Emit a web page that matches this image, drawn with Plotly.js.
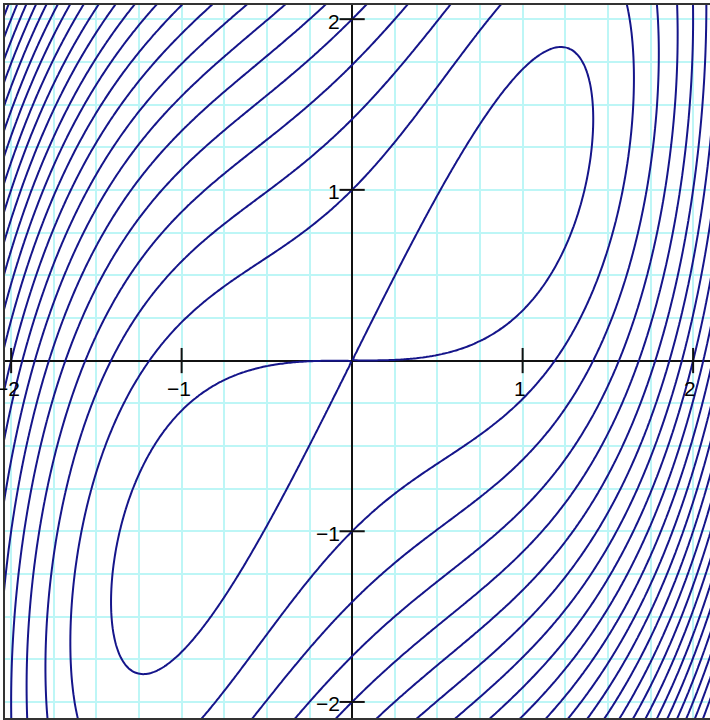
<!DOCTYPE html>
<html>
<head>
<meta charset="utf-8">
<script src="https://cdn.plot.ly/plotly-3.0.1.min.js"></script>
<style>
  html, body { margin: 0; padding: 0; background: #ffffff; }
  #chart { width: 710px; height: 720px; }
</style>
</head>
<body>
<div id="chart"></div>
<script>
// Level curves of f(x, y) = x^4 + 2y^2 - 4xy
// polynomial terms: coefficient * x^powX * y^powY
const termCoef = [1, 2, -4];
const termPowX = [4, 0, 1];
const termPowY = [0, 2, 1];

// contour levels: from 0 (the figure-eight through the saddle) upward
const levelRange = [0, 46];
const levelStep = 2;

// visible window
const xRange = [-2.036, 2.099];
const yRange = [-2.094, 2.083];

// axis labels
const xTickVals = [-2, -1, 1, 2];
const xTickText = ['\u22122', '\u22121', '1', '2'];
const yTickVals = [-2, -1, 1, 2];
const yTickText = ['\u22122', '\u22121', '1', '2'];

function surface(x, y) {
  let s = 0;
  for (let k = 0; k < termCoef.length; k++) {
    s += termCoef[k] * Math.pow(x, termPowX[k]) * Math.pow(y, termPowY[k]);
  }
  return s;
}

// sample the surface on a regular lattice a little wider than the window
const nSamples = 241;
const gx = [], gy = [];
for (let i = 0; i < nSamples; i++) {
  gx.push(-2.2 + i * 4.45 / (nSamples - 1));
  gy.push(-2.2 + i * 4.45 / (nSamples - 1));
}
const gz = gy.map(y => gx.map(x => surface(x, y)));

const lineColor = '#15158a';
const axisColor = '#111111';

const contourTrace = {
  type: 'contour',
  x: gx, y: gy, z: gz,
  autocontour: false,
  contours: { start: levelRange[0], end: levelRange[1], size: levelStep, coloring: 'none' },
  line: { color: lineColor, width: 2, smoothing: 1 },
  showscale: false,
  hoverinfo: 'skip'
};

// tick marks crossing the axes at the integer positions
const xTickMarks = {
  type: 'scatter', mode: 'markers',
  x: xTickVals, y: xTickVals.map(() => 0),
  marker: { symbol: 'line-ns', size: 18, line: { color: axisColor, width: 2 } },
  hoverinfo: 'skip', cliponaxis: true
};
const yTickMarks = {
  type: 'scatter', mode: 'markers',
  x: yTickVals.map(() => 0), y: yTickVals,
  marker: { symbol: 'line-ew', size: 18, line: { color: axisColor, width: 2 } },
  hoverinfo: 'skip', cliponaxis: true
};

const labelFont = { family: 'Liberation Sans, Arial, sans-serif', size: 21, color: '#000000' };

const annotations = [];
xTickVals.forEach((v, i) => {
  annotations.push({
    xref: 'x', yref: 'y', x: v, y: 0, text: xTickText[i], showarrow: false,
    xanchor: 'center', yanchor: 'top', xshift: -3, yshift: -14, font: labelFont
  });
});
yTickVals.forEach((v, i) => {
  annotations.push({
    xref: 'x', yref: 'y', x: 0, y: v, text: yTickText[i], showarrow: false,
    xanchor: 'right', yanchor: 'middle', xshift: -10, yshift: -2, font: labelFont
  });
});

const gridColor = '#bdf6f6';

const layout = {
  width: 710, height: 720,
  margin: { l: 5, r: 0, t: 5, b: 2, pad: 0 },
  paper_bgcolor: '#ffffff', plot_bgcolor: '#ffffff',
  showlegend: false,
  xaxis: {
    range: xRange, tick0: 0, dtick: 0.25,
    showgrid: true, gridcolor: gridColor, gridwidth: 2,
    zeroline: true, zerolinecolor: axisColor, zerolinewidth: 2,
    showticklabels: false, ticks: '',
    showline: true, linecolor: '#333333', linewidth: 2, mirror: true
  },
  yaxis: {
    range: yRange, tick0: 0, dtick: 0.25,
    showgrid: true, gridcolor: gridColor, gridwidth: 2,
    zeroline: true, zerolinecolor: axisColor, zerolinewidth: 2,
    showticklabels: false, ticks: '',
    showline: true, linecolor: '#333333', linewidth: 2, mirror: false
  },
  annotations: annotations
};

Plotly.newPlot('chart', [contourTrace, xTickMarks, yTickMarks], layout, { staticPlot: true });
</script>
</body>
</html>
